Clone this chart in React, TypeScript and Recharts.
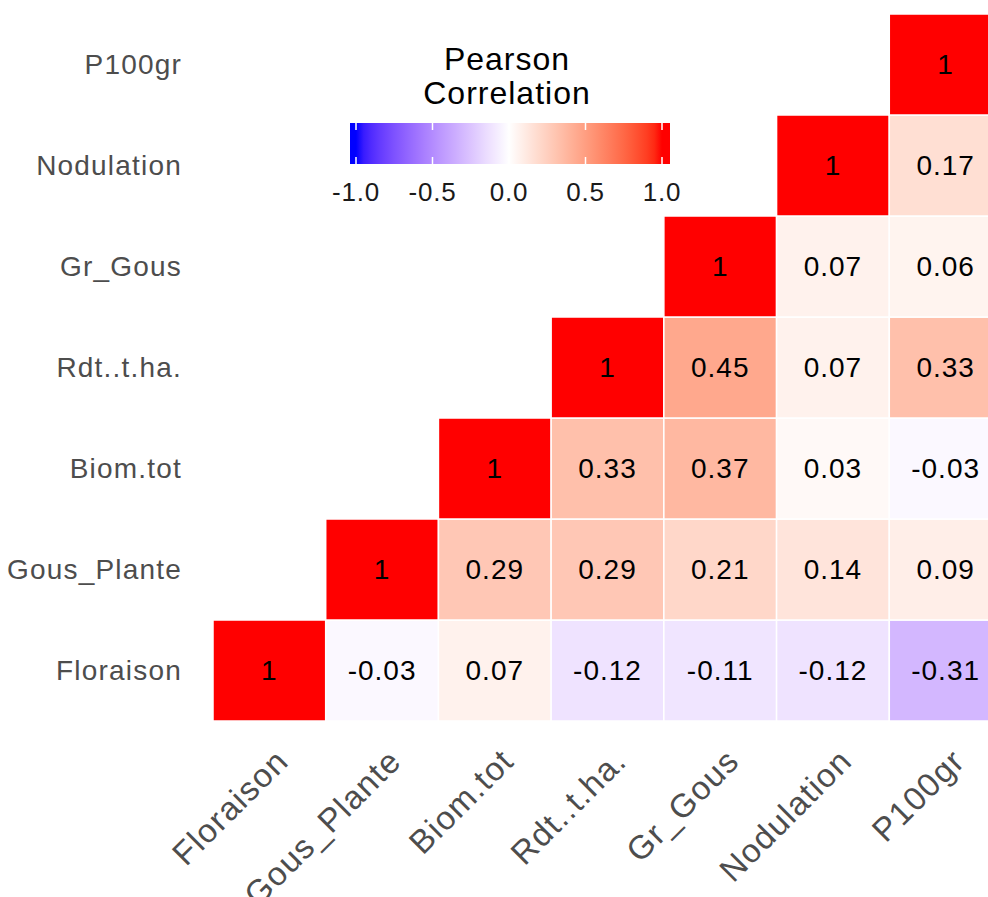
import React from 'react';
import { ScatterChart, Scatter, XAxis, YAxis } from 'recharts';

// variables, same order left->right on x and bottom->top on y
const VARS = ['Floraison', 'Gous_Plante', 'Biom.tot', 'Rdt..t.ha.', 'Gr_Gous', 'Nodulation', 'P100gr'];

// one array per row (bottom to top), values per column
const floraisonRow = [1, -0.03, 0.07, -0.12, -0.11, -0.12, -0.31];
const gousPlanteRow = [null, 1, 0.29, 0.29, 0.21, 0.14, 0.09];
const biomTotRow = [null, null, 1, 0.33, 0.37, 0.03, -0.03];
const rdtRow = [null, null, null, 1, 0.45, 0.07, 0.33];
const grGousRow = [null, null, null, null, 1, 0.07, 0.06];
const nodulationRow = [null, null, null, null, null, 1, 0.17];
const p100grRow = [null, null, null, null, null, null, 1];

const ROWS = [floraisonRow, gousPlanteRow, biomTotRow, rdtRow, grGousRow, nodulationRow, p100grRow];

const LEGEND_TICKS = [-1, -0.5, 0, 0.5, 1];

const FONT = '"Liberation Sans", Arial, sans-serif';
const CHART_W = 1002;
const CHART_H = 897;
const Y_AXIS_W = 213;
const X_AXIS_H = 176;
const TOP = 14;
const CELL_W = (CHART_W - Y_AXIS_W) / VARS.length;
const CELL_H = (CHART_H - TOP - X_AXIS_H) / VARS.length;

// --- colour scale: blue - white - red, interpolated in CIELAB like ggplot ---
const lin = (c: number) => (c <= 0.04045 ? c / 12.92 : Math.pow((c + 0.055) / 1.055, 2.4));
const gam = (c: number) => (c <= 0.0031308 ? 12.92 * c : 1.055 * Math.pow(c, 1 / 2.4) - 0.055);
const WN = [0.95047, 1, 1.08883];

function toLab(rgb: number[]) {
    const [r, g, b] = rgb.map((c) => lin(c / 255));
    const X = (0.4124564 * r + 0.3575761 * g + 0.1804375 * b) / WN[0];
    const Y = (0.2126729 * r + 0.7151522 * g + 0.072175 * b) / WN[1];
    const Z = (0.0193339 * r + 0.119192 * g + 0.9503041 * b) / WN[2];
    const f = (t: number) => (t > 0.008856 ? Math.cbrt(t) : 7.787 * t + 16 / 116);
    const fx = f(X), fy = f(Y), fz = f(Z);
    return [116 * fy - 16, 500 * (fx - fy), 200 * (fy - fz)];
}

function fromLab(lab: number[]) {
    const [L, a, bb] = lab;
    const fy = (L + 16) / 116;
    const fx = fy + a / 500;
    const fz = fy - bb / 200;
    const inv = (t: number) => (t * t * t > 0.008856 ? t * t * t : (t - 16 / 116) / 7.787);
    const X = inv(fx) * WN[0], Y = inv(fy) * WN[1], Z = inv(fz) * WN[2];
    const r = 3.2404542 * X - 1.5371385 * Y - 0.4985314 * Z;
    const g = -0.969266 * X + 1.8760108 * Y + 0.041556 * Z;
    const b = 0.0556434 * X - 0.2040259 * Y + 1.0572252 * Z;
    const to255 = (c: number) => Math.round(Math.min(1, Math.max(0, gam(c))) * 255);
    return `rgb(${to255(r)},${to255(g)},${to255(b)})`;
}

const LAB_WHITE = toLab([255, 255, 255]);
const LAB_RED = toLab([255, 0, 0]);
const LAB_BLUE = toLab([0, 0, 255]);

function fillFor(v: number) {
    const t = Math.min(1, Math.abs(v));
    const end = v >= 0 ? LAB_RED : LAB_BLUE;
    return fromLab(LAB_WHITE.map((w, i) => w + (end[i] - w) * t));
}

const cells = ROWS.flatMap((row, ri) =>
    row
        .map((v, ci) => (v === null ? null : { x: ci + 0.5, y: ri + 0.5, v }))
        .filter((d): d is { x: number; y: number; v: number } => d !== null)
);

const TICK_POS = VARS.map((_, i) => i + 0.5);

const CellShape = (props: any) => {
    const { cx, cy, payload } = props;
    return (
        <g>
            <rect
                x={cx - CELL_W / 2}
                y={cy - CELL_H / 2}
                width={CELL_W}
                height={CELL_H}
                fill={fillFor(payload.v)}
                stroke="#ffffff"
                strokeWidth={1.5}
            />
            <text
                x={cx}
                y={cy}
                textAnchor="middle"
                dominantBaseline="central"
                fontFamily={FONT}
                fontSize={28}
                letterSpacing={1}
                fill="#000"
            >
                {String(payload.v)}
            </text>
        </g>
    );
};

const YTick = (props: any) => {
    const { x, y, payload } = props;
    return (
        <text
            x={x - 31}
            y={y}
            textAnchor="end"
            dominantBaseline="central"
            fontFamily={FONT}
            fontSize={28}
            letterSpacing={1.2}
            fill="#4d4d4d"
        >
            {VARS[Math.floor(payload.value)]}
        </text>
    );
};

const XTick = (props: any) => {
    const { x, y, payload } = props;
    const ay = y + 25;
    return (
        <text
            x={x + 4}
            y={ay}
            transform={`rotate(-45, ${x + 4}, ${ay})`}
            textAnchor="end"
            dominantBaseline="hanging"
            fontFamily={FONT}
            fontSize={33}
            letterSpacing={1.3}
            fill="#4d4d4d"
        >
            {VARS[Math.floor(payload.value)]}
        </text>
    );
};

// colour bar legend
const BAR_LEFT = 350;
const BAR_RIGHT = 670;
const BAR_TOP = 123;
const BAR_H = 41;
const barX = (v: number) => 509 + v * 153;

const Legend = () => {
    const stops = [];
    for (let i = 0; i <= 40; i++) {
        const v = -1 + i * 0.05;
        stops.push(
            <stop key={i} offset={(barX(v) - BAR_LEFT) / (BAR_RIGHT - BAR_LEFT)} stopColor={fillFor(v)} />
        );
    }
    return (
        <svg width={988} height={897} style={{ position: 'absolute', left: 0, top: 0, pointerEvents: 'none' }}>
            <defs>
                <linearGradient id="corrGrad" x1="0" y1="0" x2="1" y2="0">
                    {stops}
                </linearGradient>
            </defs>
            <text x={507} y={59} textAnchor="middle" dominantBaseline="central" fontFamily={FONT} fontSize={32} letterSpacing={1} fill="#000">
                Pearson
            </text>
            <text x={507} y={93} textAnchor="middle" dominantBaseline="central" fontFamily={FONT} fontSize={32} letterSpacing={1} fill="#000">
                Correlation
            </text>
            <rect x={BAR_LEFT} y={BAR_TOP} width={BAR_RIGHT - BAR_LEFT} height={BAR_H} fill="url(#corrGrad)" />
            {LEGEND_TICKS.map((v) => (
                <g key={v}>
                    <line x1={barX(v)} x2={barX(v)} y1={BAR_TOP} y2={BAR_TOP + 7} stroke="#fff" strokeWidth={1.5} />
                    <line x1={barX(v)} x2={barX(v)} y1={BAR_TOP + BAR_H - 7} y2={BAR_TOP + BAR_H} stroke="#fff" strokeWidth={1.5} />
                    <text x={barX(v)} y={192} textAnchor="middle" dominantBaseline="central" fontFamily={FONT} fontSize={26} letterSpacing={0.8} fill="#1a1a1a">
                        {v.toFixed(1)}
                    </text>
                </g>
            ))}
        </svg>
    );
};

export default function App() {
    return (
        <div style={{ position: 'absolute', left: 0, top: 0, width: 988, height: 897, overflow: 'hidden', background: '#fff' }}>
            <ScatterChart width={CHART_W} height={CHART_H} margin={{ top: TOP, right: 0, bottom: 0, left: 0 }}>
                <XAxis
                    type="number"
                    dataKey="x"
                    domain={[0, VARS.length]}
                    ticks={TICK_POS}
                    interval={0}
                    allowDataOverflow
                    axisLine={false}
                    tickLine={false}
                    tickSize={0}
                    tickMargin={0}
                    height={X_AXIS_H}
                    tick={<XTick />}
                />
                <YAxis
                    type="number"
                    dataKey="y"
                    domain={[0, VARS.length]}
                    ticks={TICK_POS}
                    interval={0}
                    allowDataOverflow
                    axisLine={false}
                    tickLine={false}
                    tickSize={0}
                    tickMargin={0}
                    width={Y_AXIS_W}
                    tick={<YTick />}
                />
                <Scatter data={cells} shape={<CellShape />} isAnimationActive={false} />
            </ScatterChart>
            <Legend />
        </div>
    );
}
